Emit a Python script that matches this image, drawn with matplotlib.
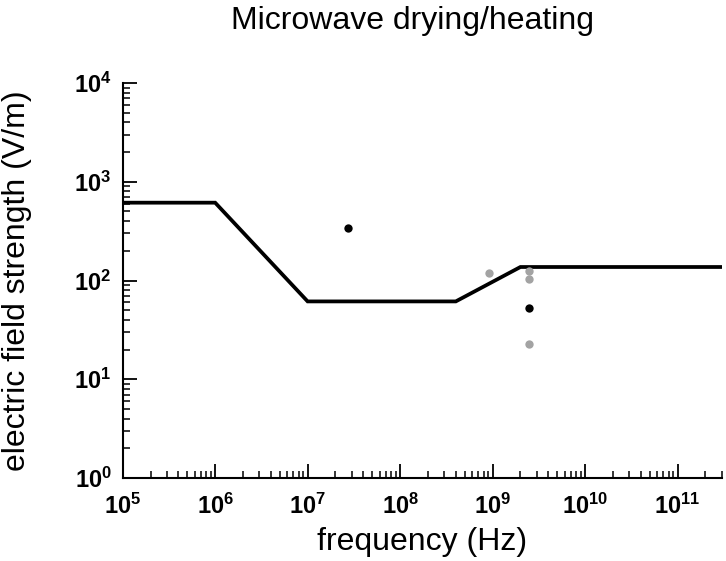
import numpy as np
import matplotlib
matplotlib.use("Agg")
import matplotlib.pyplot as plt
from matplotlib.ticker import LogLocator, FuncFormatter, NullFormatter

# =========================
# DATA
# =========================
# reference limit line (Hz, V/m)
limit_freq = [1e5, 1e6, 1e7, 4e8, 2e9, 3e11]
limit_e = [614, 614, 61.4, 61.4, 137, 137]

# measured values
black_freq = [2.712e7, 2.45e9]
black_e = [340, 53]
gray_freq = [9.15e8, 2.45e9, 2.45e9, 2.45e9]
gray_e = [120, 125, 103, 23]

# =========================
# STYLE
# =========================
plt.rcParams['font.family'] = ['Liberation Sans', 'DejaVu Sans']
plt.rcParams['mathtext.fontset'] = 'custom'
plt.rcParams['mathtext.rm'] = 'Liberation Sans'
plt.rcParams['mathtext.bf'] = 'Liberation Sans:bold'

fig = plt.figure(figsize=(7.26, 5.61), dpi=100)
ax = fig.add_axes([0.169, 0.148, 0.825, 0.704])

ax.plot(limit_freq, limit_e, color='black', lw=2.7, solid_joinstyle='miter')
ax.plot(gray_freq, gray_e, 'o', color='#a3a3a3', ms=6, mec='none')
ax.plot(black_freq, black_e, 'o', color='black', ms=6, mec='none')

ax.set_xscale('log')
ax.set_yscale('log')
ax.set_xlim(1e5, 3e11)
ax.set_ylim(1, 1e4)

for a in (ax.xaxis, ax.yaxis):
    a.set_major_locator(LogLocator(base=10, numticks=20))
    a.set_minor_locator(LogLocator(base=10, subs=np.arange(2, 10), numticks=20))
    a.set_minor_formatter(NullFormatter())
    a.set_major_formatter(FuncFormatter(lambda v, p: r'$\mathbf{10^{%d}}$' % round(np.log10(v))))

ax.tick_params(which='major', direction='in', length=10, width=1.3, labelsize=17)
ax.tick_params(axis='x', which='major', pad=11)
ax.tick_params(axis='y', which='major', pad=8)
ax.tick_params(which='minor', direction='in', length=5, width=1.1)
ax.spines['top'].set_visible(False)
ax.spines['right'].set_visible(False)
ax.spines['left'].set_linewidth(1.5)
ax.spines['bottom'].set_linewidth(1.5)

ax.set_xlabel('frequency (Hz)', fontsize=23, labelpad=6)
ax.set_ylabel('electric field strength (V/m)', fontsize=23)
ax.yaxis.set_label_coords(-0.152, 0.5)
fig.text(0.568, 0.962, 'Microwave drying/heating', fontsize=23, ha='center', va='center')

fig.savefig('out.png', dpi=100)
